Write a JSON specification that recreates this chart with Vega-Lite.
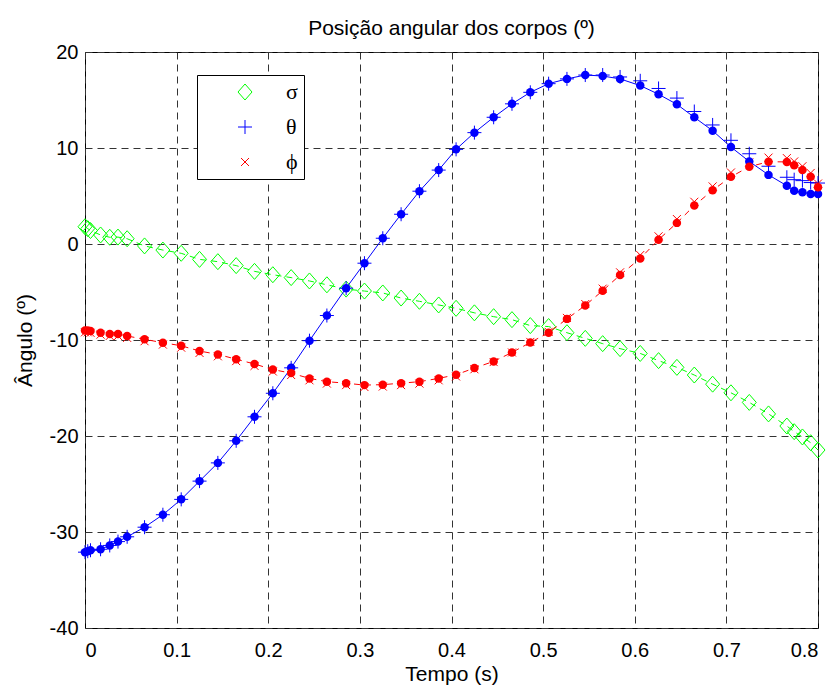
{
  "$schema": "https://vega.github.io/schema/vega-lite/v6.json",
  "autosize": {"type": "none"},
  "width": 733,
  "height": 576,
  "padding": {"left": 85, "top": 52, "right": 17, "bottom": 58},
  "background": "white",
  "title": {
    "text": "Posição angular dos corpos (º)",
    "font": "Liberation Sans",
    "fontSize": 21,
    "fontWeight": "normal",
    "color": "black",
    "offset": 3
  },
  "config": {
    "view": {"stroke": "black", "strokeWidth": 1},
    "axis": {
      "labelFont": "Liberation Sans",
      "labelFontSize": 20,
      "labelColor": "black",
      "titleFont": "Liberation Sans",
      "titleFontSize": 21,
      "titleFontWeight": "normal",
      "titleColor": "black",
      "grid": true,
      "gridColor": "#333333",
      "gridDash": [7, 5],
      "gridWidth": 1,
      "gridOpacity": 1,
      "ticks": false,
      "domain": false
    }
  },
  "data": {
    "values": [
      {"t": 0.0, "sigma": 1.8, "theta": -32.1, "phi": -9.0, "theta_m": -32.1, "phi_m": -9.2},
      {"t": 0.003, "sigma": 1.6, "theta": -32.0, "phi": -9.0, "theta_m": -32.0, "phi_m": -9.2},
      {"t": 0.006, "sigma": 1.4, "theta": -31.9, "phi": -9.05, "theta_m": -31.9, "phi_m": -9.25},
      {"t": 0.017, "sigma": 0.94, "theta": -31.8, "phi": -9.24, "theta_m": -31.8, "phi_m": -9.44},
      {"t": 0.027, "sigma": 0.7, "theta": -31.4, "phi": -9.38, "theta_m": -31.4, "phi_m": -9.58},
      {"t": 0.036, "sigma": 0.72, "theta": -31.0, "phi": -9.38, "theta_m": -31.0, "phi_m": -9.58},
      {"t": 0.046, "sigma": 0.55, "theta": -30.5, "phi": -9.58, "theta_m": -30.5, "phi_m": -9.78},
      {"t": 0.065, "sigma": -0.2, "theta": -29.5, "phi": -9.93, "theta_m": -29.5, "phi_m": -10.13},
      {"t": 0.085, "sigma": -0.63, "theta": -28.2, "phi": -10.28, "theta_m": -28.2, "phi_m": -10.48},
      {"t": 0.105, "sigma": -0.97, "theta": -26.6, "phi": -10.6, "theta_m": -26.6, "phi_m": -10.8},
      {"t": 0.125, "sigma": -1.6, "theta": -24.7, "phi": -11.15, "theta_m": -24.7, "phi_m": -11.35},
      {"t": 0.145, "sigma": -1.84, "theta": -22.8, "phi": -11.5, "theta_m": -22.8, "phi_m": -11.7},
      {"t": 0.165, "sigma": -2.25, "theta": -20.5, "phi": -12.0, "theta_m": -20.5, "phi_m": -12.2},
      {"t": 0.185, "sigma": -2.85, "theta": -18.0, "phi": -12.5, "theta_m": -18.0, "phi_m": -12.7},
      {"t": 0.205, "sigma": -3.2, "theta": -15.55, "phi": -13.08, "theta_m": -15.55, "phi_m": -13.28},
      {"t": 0.225, "sigma": -3.5, "theta": -12.9, "phi": -13.45, "theta_m": -12.9, "phi_m": -13.65},
      {"t": 0.245, "sigma": -3.85, "theta": -10.07, "phi": -14.0, "theta_m": -10.07, "phi_m": -14.2},
      {"t": 0.264, "sigma": -4.25, "theta": -7.45, "phi": -14.34, "theta_m": -7.45, "phi_m": -14.54},
      {"t": 0.285, "sigma": -4.7, "theta": -4.6, "phi": -14.5, "theta_m": -4.6, "phi_m": -14.7},
      {"t": 0.305, "sigma": -4.9, "theta": -2.0, "phi": -14.7, "theta_m": -2.0, "phi_m": -14.9},
      {"t": 0.325, "sigma": -5.1, "theta": 0.6, "phi": -14.65, "theta_m": 0.6, "phi_m": -14.85},
      {"t": 0.345, "sigma": -5.63, "theta": 3.1, "phi": -14.5, "theta_m": 3.1, "phi_m": -14.7},
      {"t": 0.365, "sigma": -5.97, "theta": 5.5, "phi": -14.34, "theta_m": 5.5, "phi_m": -14.54},
      {"t": 0.386, "sigma": -6.35, "theta": 7.7, "phi": -14.0, "theta_m": 7.7, "phi_m": -14.2},
      {"t": 0.405, "sigma": -6.7, "theta": 9.86, "phi": -13.62, "theta_m": 9.86, "phi_m": -13.8},
      {"t": 0.425, "sigma": -7.17, "theta": 11.6, "phi": -12.92, "theta_m": 11.6, "phi_m": -13.05},
      {"t": 0.446, "sigma": -7.57, "theta": 13.2, "phi": -12.23, "theta_m": 13.2, "phi_m": -12.3},
      {"t": 0.466, "sigma": -7.88, "theta": 14.6, "phi": -11.3, "theta_m": 14.6, "phi_m": -11.3},
      {"t": 0.486, "sigma": -8.5, "theta": 15.8, "phi": -10.26, "theta_m": 15.8, "phi_m": -10.2},
      {"t": 0.506, "sigma": -8.6, "theta": 16.7, "phi": -9.24, "theta_m": 16.7, "phi_m": -9.15},
      {"t": 0.526, "sigma": -9.24, "theta": 17.2, "phi": -7.8, "theta_m": 17.2, "phi_m": -7.7},
      {"t": 0.546, "sigma": -9.83, "theta": 17.6, "phi": -6.4, "theta_m": 17.6, "phi_m": -6.25},
      {"t": 0.565, "sigma": -10.38, "theta": 17.5, "phi": -4.86, "theta_m": 17.6, "phi_m": -4.65},
      {"t": 0.584, "sigma": -10.9, "theta": 17.2, "phi": -3.23, "theta_m": 17.4, "phi_m": -2.95},
      {"t": 0.606, "sigma": -11.4, "theta": 16.5, "phi": -1.5, "theta_m": 17.0, "phi_m": -1.15},
      {"t": 0.626, "sigma": -12.15, "theta": 15.6, "phi": 0.45, "theta_m": 16.2, "phi_m": 0.8},
      {"t": 0.646, "sigma": -12.85, "theta": 14.55, "phi": 2.2, "theta_m": 15.2, "phi_m": 2.6},
      {"t": 0.665, "sigma": -13.65, "theta": 13.2, "phi": 4.0, "theta_m": 13.8, "phi_m": 4.4},
      {"t": 0.685, "sigma": -14.6, "theta": 11.8, "phi": 5.6, "theta_m": 12.4, "phi_m": 6.0},
      {"t": 0.705, "sigma": -15.5, "theta": 10.1, "phi": 7.0, "theta_m": 10.8, "phi_m": 7.45},
      {"t": 0.725, "sigma": -16.5, "theta": 8.6, "phi": 8.05, "theta_m": 9.4, "phi_m": 8.5},
      {"t": 0.746, "sigma": -17.7, "theta": 7.2, "phi": 8.57, "theta_m": 8.1, "phi_m": 9.0},
      {"t": 0.766, "sigma": -18.96, "theta": 6.07, "phi": 8.55, "theta_m": 6.95, "phi_m": 8.95},
      {"t": 0.774, "sigma": -19.55, "theta": 5.55, "phi": 8.2, "theta_m": 6.7, "phi_m": 8.6},
      {"t": 0.783, "sigma": -20.1, "theta": 5.4, "phi": 7.7, "theta_m": 6.6, "phi_m": 8.1},
      {"t": 0.792, "sigma": -20.7, "theta": 5.2, "phi": 7.0, "theta_m": 6.4, "phi_m": 7.4},
      {"t": 0.8, "sigma": -21.46, "theta": 5.2, "phi": 5.9, "theta_m": 6.35, "phi_m": 6.3}
    ]
  },
  "encoding": {
    "x": {
      "field": "t",
      "type": "quantitative",
      "scale": {"domain": [0, 0.8], "nice": false, "zero": false},
      "axis": {
        "title": "Tempo (s)",
        "values": [0, 0.1, 0.2, 0.3, 0.4, 0.5, 0.6, 0.7, 0.8],
        "labelExpr": "'' + datum.value",
        "labelPadding": 12,
        "titlePadding": 3
      }
    }
  },
  "layer": [
    {
      "mark": {"type": "line", "color": "#00ff00", "strokeWidth": 1, "strokeDash": [6, 5]},
      "encoding": {
        "y": {
          "field": "sigma",
          "type": "quantitative",
          "scale": {"domain": [-40, 20], "nice": false, "zero": false},
          "axis": {
            "title": "Ângulo (º)",
            "values": [-40, -30, -20, -10, 0, 10, 20],
            "labelExpr": "'' + datum.value",
            "labelPadding": 7,
            "titlePadding": 14
          }
        }
      }
    },
    {
      "transform": [{"fold": ["sigma", "theta_m", "phi_m"], "as": ["serie", "valor"]}],
      "mark": {"type": "point", "filled": false, "size": 4, "strokeWidth": 1, "opacity": 1},
      "encoding": {
        "y": {"field": "valor", "type": "quantitative"},
        "color": {
          "field": "serie",
          "type": "nominal",
          "scale": {"domain": ["sigma", "theta_m", "phi_m"], "range": ["#00ff00", "#0000ff", "#ff0000"]},
          "legend": {
            "title": null,
            "orient": "none",
            "legendX": 112,
            "legendY": 23,
            "padding": 6,
            "symbolOffset": 31,
            "labelOffset": 30,
            "labelFont": "Liberation Serif",
            "labelFontSize": 22,
            "labelColor": "black",
            "labelExpr": "datum.label == 'sigma' ? 'σ' : datum.label == 'theta_m' ? 'θ' : 'ϕ'",
            "rowPadding": 13,
            "strokeColor": "black",
            "fillColor": "white",
            "cornerRadius": 0,
            "symbolSize": 4,
            "symbolStrokeWidth": 1
          }
        },
        "shape": {
          "field": "serie",
          "type": "nominal",
          "scale": {
            "domain": ["sigma", "theta_m", "phi_m"],
            "range": ["M-7,0L0,-8L7,0L0,8Z", "M-7,0L7,0M0,-7L0,7", "M-4,-4L4,4M-4,4L4,-4"]
          }
        }
      }
    },
    {
      "mark": {"type": "line", "color": "#0000ff", "strokeWidth": 1},
      "encoding": {"y": {"field": "theta", "type": "quantitative"}}
    },
    {
      "mark": {"type": "point", "shape": "circle", "filled": true, "size": 72, "color": "#0000ff", "opacity": 1},
      "encoding": {"y": {"field": "theta", "type": "quantitative"}}
    },
    {
      "mark": {"type": "line", "color": "#ff0000", "strokeWidth": 1, "strokeDash": [6, 5]},
      "encoding": {"y": {"field": "phi", "type": "quantitative"}}
    },
    {
      "mark": {"type": "point", "shape": "circle", "filled": true, "size": 72, "color": "#ff0000", "opacity": 1},
      "encoding": {"y": {"field": "phi", "type": "quantitative"}}
    }
  ]
}
